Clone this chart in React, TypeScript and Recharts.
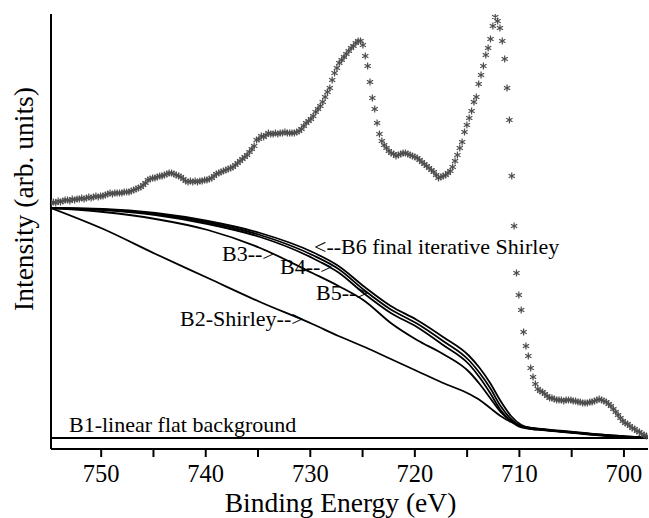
import { ComposedChart, Line, Scatter, XAxis, YAxis } from 'recharts';

// XPS scan grid (eV) and measured intensity (arb. units, B1 flat background = 0)
const E_START = 754.8;
const E_STEP = 0.226;
const intensity = [
  235, 236, 235, 237, 236, 237, 238, 238, 237, 239, 238, 239, 239, 240, 239, 240, 241, 240, 241, 242,
  241, 242, 242, 243, 244, 245, 244, 245, 245, 245, 245, 246, 246, 246, 247, 248, 249, 250, 251, 253,
  255, 258, 259, 260, 260, 261, 262, 262, 263, 264, 265, 265, 264, 263, 262, 261, 259, 257, 256, 257,
  256, 257, 256, 257, 257, 258, 258, 259, 260, 262, 264, 265, 266, 267, 268, 269, 270, 271, 273, 275,
  277, 279, 281, 283, 286, 289, 292, 298, 299, 302, 301, 303, 305, 304, 304, 305, 304, 305, 305, 306,
  305, 305, 305, 305, 306, 307, 309, 312, 315, 317, 319, 322, 326, 329, 332, 336, 341, 346, 350, 358,
  365, 370, 375, 378, 381, 384, 387, 390, 392, 395, 397, 397, 393, 382, 372, 356, 340, 329, 315, 304,
  297, 293, 290, 287, 285, 284, 282, 283, 284, 285, 285, 284, 283, 282, 281, 280, 278, 276, 274, 272,
  270, 268, 266, 263, 260, 261, 262, 263, 265, 267, 271, 277, 283, 290, 296, 306, 313, 320, 327, 336,
  341, 354, 363, 372, 383, 390, 399, 412, 421, 417, 410, 397, 379, 350, 318, 262, 212, 165, 143, 128,
  106, 92, 82, 70, 61, 54, 49, 47, 46, 44, 42, 40, 40, 39, 38, 38, 38, 37, 38, 38,
  38, 37, 37, 36, 36, 35, 35, 35, 36, 36, 37, 38, 39, 38, 37, 36, 34, 32, 29, 26,
  23, 20, 17, 15, 14, 12, 10, 9, 7, 6, 4, 3, 2, 1,
];

// background curves, read at these energies
const bgEnergy = [
  754.8, 749.8, 744.8, 739.8, 734.8, 729.8, 727.3, 724.8, 722.3, 719.8, 717.3, 714.8,
  713.8, 712.8, 711.8, 710.8, 709.8, 708.8, 707.8, 705.8, 703.8, 701.8, 699.8, 697.8,
];
const b2 = [230, 209, 184, 160, 136, 114, 102, 91, 79, 67, 55, 44, 38, 30, 22, 16, 11.5, 9, 8, 6, 4, 2.5, 1, 0.5];
const b3 = [230, 226, 219, 208, 190, 165, 152, 137, 115, 98, 84, 66, 54, 40, 26, 17, 12, 10, 8.5, 6.5, 4.5, 3, 1.5, 0.5];
const b4 = [230, 228, 223, 214, 201, 180, 165.5, 144, 125, 111, 93, 73.5, 60.5, 45, 28, 17, 10.5, 9, 8.2, 6.2, 4.2, 2.2, 1, 0.3];
const b5 = [230, 228.5, 224, 215.5, 203, 183, 169, 147.5, 128.5, 114.5, 97, 77.5, 65, 50, 32, 19, 11.5, 9.5, 8.5, 6.5, 4.5, 2.5, 1.2, 0.4];
const b6 = [230, 229, 225, 217, 205, 186, 172, 151, 132, 118, 101, 82, 70, 55, 37, 22, 13, 10, 9, 7, 5, 3, 1.5, 0.5];
const b1Energy = [754.8, 697.7];
const b1 = [0, 0];

const majorTicks = [750, 740, 730, 720, 710, 700];
const minorTicks = [745, 735, 725, 715, 705];

const spectrum = intensity.map((v, i) => ({ e: +(E_START - i * E_STEP).toFixed(3), v }));
const toSeries = (es: number[], vals: number[]) => es.map((e, i) => ({ e, v: vals[i] }));

const FONT = "'Liberation Serif', 'Times New Roman', serif";

const Asterisk = (props: any) => {
  const { cx, cy } = props;
  if (cx == null || cy == null) return null;
  const r = 3.6;
  const dx = r * 0.866;
  const dy = r * 0.5;
  return (
    <path
      d={`M${cx},${cy - r}L${cx},${cy + r}M${cx - dx},${cy - dy}L${cx + dx},${cy + dy}M${cx - dx},${cy + dy}L${cx + dx},${cy - dy}`}
      stroke="#4d4d4d"
      strokeWidth={1.2}
      fill="none"
    />
  );
};

const EnergyTick = (props: any) => {
  const { x, y, payload } = props;
  if (!majorTicks.includes(payload.value)) return null;
  return (
    <text x={x} y={y + 25} textAnchor="middle" fontFamily={FONT} fontSize={24.5} fill="#000">
      {payload.value}
    </text>
  );
};

const annText = { fontFamily: FONT, fontSize: 22, fill: '#000' };

const App = () => {
  return (
    <div style={{ position: 'absolute', left: 0, top: 0, background: '#fff' }}>
      <ComposedChart width={649} height={518} margin={{ top: 14, right: 1, bottom: 0, left: 0 }}>
        <XAxis
          type="number"
          dataKey="e"
          domain={[697.7, 754.8]}
          reversed
          allowDataOverflow
          ticks={[...majorTicks, ...minorTicks].sort((a, b) => b - a)}
          interval={0}
          tick={<EnergyTick />}
          tickSize={8}
          tickMargin={0}
          height={69}
          axisLine={{ stroke: '#000', strokeWidth: 2 }}
          tickLine={{ stroke: '#000', strokeWidth: 2 }}
        />
        <YAxis
          type="number"
          dataKey="v"
          domain={[-11, 424]}
          allowDataOverflow
          width={51}
          tick={false}
          tickLine={false}
          axisLine={{ stroke: '#000', strokeWidth: 2 }}
        />
        <Line data={toSeries(b1Energy, b1)} dataKey="v" stroke="#000" strokeWidth={2} dot={false} isAnimationActive={false} />
        <Line data={toSeries(bgEnergy, b2)} type="monotone" dataKey="v" stroke="#000" strokeWidth={1.8} dot={false} isAnimationActive={false} />
        <Line data={toSeries(bgEnergy, b3)} type="monotone" dataKey="v" stroke="#000" strokeWidth={1.8} dot={false} isAnimationActive={false} />
        <Line data={toSeries(bgEnergy, b4)} type="monotone" dataKey="v" stroke="#000" strokeWidth={1.8} dot={false} isAnimationActive={false} />
        <Line data={toSeries(bgEnergy, b5)} type="monotone" dataKey="v" stroke="#000" strokeWidth={1.8} dot={false} isAnimationActive={false} />
        <Line data={toSeries(bgEnergy, b6)} type="monotone" dataKey="v" stroke="#000" strokeWidth={1.8} dot={false} isAnimationActive={false} />
        <Scatter data={spectrum} dataKey="v" shape={<Asterisk />} isAnimationActive={false} />
        <text x={69} y={432} {...annText}>B1-linear flat background</text>
        <text x={180} y={326} {...annText}>B2-Shirley--&gt;</text>
        <text x={222} y={261} {...annText}>B3--&gt;</text>
        <text x={280} y={274} {...annText}>B4--&gt;</text>
        <text x={316} y={300} {...annText}>B5--&gt;</text>
        <text x={314} y={254} {...annText}>&lt;--B6 final iterative Shirley</text>
        <text x={340.5} y={512} textAnchor="middle" fontFamily={FONT} fontSize={27.5} fill="#000">
          Binding Energy (eV)
        </text>
        <text
          x={33}
          y={199}
          textAnchor="middle"
          transform="rotate(-90 33 199)"
          fontFamily={FONT}
          fontSize={27.5}
          fill="#000"
        >
          Intensity (arb. units)
        </text>
      </ComposedChart>
    </div>
  );
};

export default App;
